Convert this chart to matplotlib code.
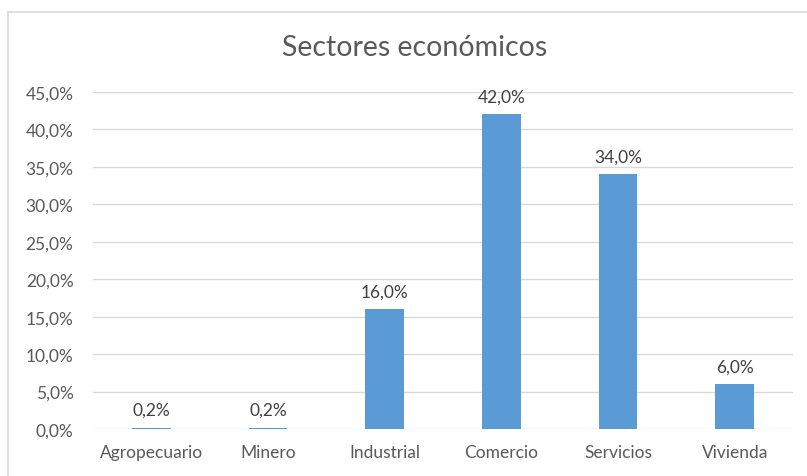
import matplotlib.pyplot as plt
from matplotlib.lines import Line2D
from matplotlib.ticker import FuncFormatter

plt.rcParams['font.family'] = ['Lato', 'DejaVu Sans']

# Datos
sectores = ['Agropecuario', 'Minero', 'Industrial', 'Comercio', 'Servicios', 'Vivienda']
porcentajes = [0.2, 0.2, 16.0, 42.0, 34.0, 6.0]
etiquetas = ['0,2%', '0,2%', '16,0%', '42,0%', '34,0%', '6,0%']

fig = plt.figure(figsize=(8.07, 4.77), dpi=100)
ax = fig.add_axes([0.1152, 0.0985, 0.8675, 0.7065])

x = range(len(sectores))
barras = ax.bar(x, porcentajes, width=0.33, color='#5B9BD5', zorder=3)

for b, txt in zip(barras, etiquetas):
    ax.text(b.get_x() + b.get_width() / 2, b.get_height() + 1.3, txt,
            ha='center', va='bottom', fontsize=12.5, color='#404040')

ax.set_xlim(-0.5, len(sectores) - 0.5)
ax.set_ylim(0, 45)
ax.set_yticks(range(0, 46, 5))
ax.yaxis.set_major_formatter(FuncFormatter(lambda v, p: f'{v:.1f}%'.replace('.', ',')))
ax.set_xticks(list(x))
ax.set_xticklabels(sectores)
ax.tick_params(axis='both', length=0, labelsize=12.5, labelcolor='#595959')
ax.tick_params(axis='y', pad=14)
ax.tick_params(axis='x', pad=11)
ax.grid(axis='y', color='#D9D9D9', linewidth=1, zorder=0)
for s in ax.spines.values():
    s.set_visible(False)

fig.text(415 / 807, 1 - 48 / 477, 'Sectores económicos', ha='center', va='center',
         fontsize=20.5, color='#595959')

# Borde del gráfico
fig.add_artist(Line2D([8 / 807, 8 / 807], [0, 1 - 13 / 477], color='#D9D9D9', linewidth=1.2))
fig.add_artist(Line2D([8 / 807, 1], [1 - 13 / 477, 1 - 13 / 477], color='#D9D9D9', linewidth=1.2))

fig.savefig('out.png', dpi=100)
